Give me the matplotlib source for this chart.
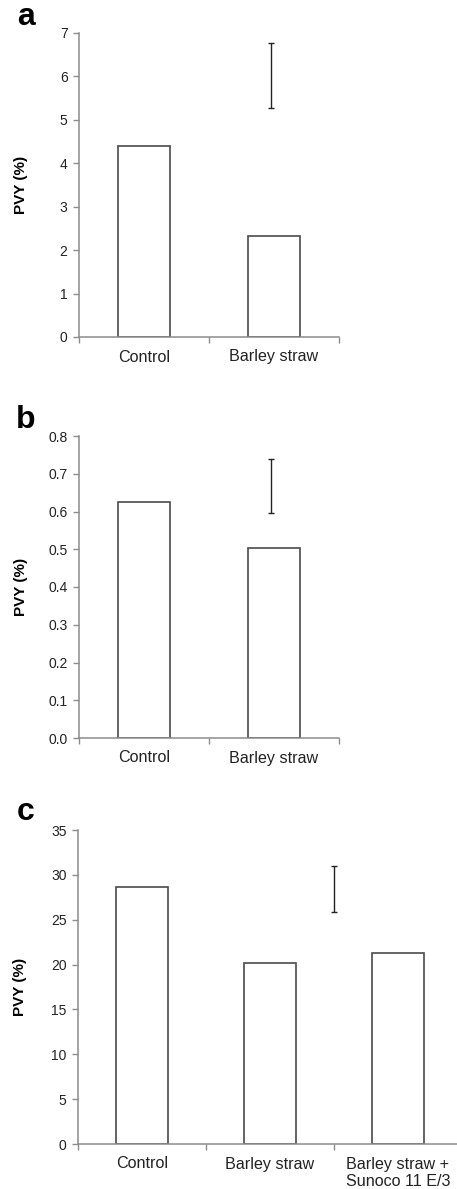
import numpy as np
import matplotlib.pyplot as plt

plt.rcParams['font.family'] = ['Liberation Sans', 'DejaVu Sans']

# panel a
cats_a = ['Control', 'Barley straw']
vals_a = [4.40, 2.33]
err_a = (0.98, 5.27, 6.77)     # x position, low, high
yt_a = [0, 1, 2, 3, 4, 5, 6, 7]

# panel b
cats_b = ['Control', 'Barley straw']
vals_b = [0.624, 0.504]
err_b = (0.98, 0.596, 0.739)
yt_b = [0.0, 0.1, 0.2, 0.3, 0.4, 0.5, 0.6, 0.7, 0.8]

# panel c
cats_c = ['Control', 'Barley straw', 'Barley straw +\nSunoco 11 E/3']
vals_c = [28.6, 20.2, 21.3]
err_c = (1.5, 25.9, 31.0)
yt_c = [0, 5, 10, 15, 20, 25, 30, 35]

W, H = 457, 1189
fig = plt.figure(figsize=(W/100, H/100), dpi=100)

def px_axes(left, right, top, bottom):
	return fig.add_axes([left/W, (H-bottom)/H, (right-left)/W, (bottom-top)/H])

def panel(ax, cats, vals, err, yticks, fmt, width_px):
	n = len(cats)
	x = np.arange(n)
	ax.bar(x, vals, width=0.4, color='white', edgecolor='#4a4a4a', lw=1.2, zorder=2)
	ex, lo, hi = err
	ax.errorbar([ex], [(lo+hi)/2], yerr=[(hi-lo)/2], fmt='none', ecolor='#222222', elinewidth=1.0, capsize=2.2, capthick=1.0)
	ax.set_xlim(-0.5, n-0.5)
	ax.set_ylim(yticks[0], yticks[-1])
	ax.set_yticks(yticks)
	ax.set_yticklabels([fmt.format(v) for v in yticks])
	ax.set_xticks(x)
	ax.set_xticklabels(cats, fontsize=11.6, color='#222222')
	ax.set_xticks(np.arange(n+1)-0.5, minor=True)
	ax.tick_params(axis='x', which='major', length=0, pad=9)
	ax.tick_params(axis='x', which='minor', length=4, width=1, color='#8c8c8c', direction='out')
	ax.tick_params(axis='y', length=4, width=1, color='#8c8c8c', direction='out', labelsize=10, labelcolor='#222222', pad=4.2)
	for s in ['top', 'right']:
		ax.spines[s].set_visible(False)
	for s in ['left', 'bottom']:
		ax.spines[s].set_color('#8c8c8c')
		ax.spines[s].set_linewidth(1.1)
	ax.set_ylabel('PVY (%)', fontsize=11, fontweight='bold', va='center')
	ax.yaxis.set_label_coords(-58/width_px, 0.5)

ax_a = px_axes(79, 339, 33, 337)
panel(ax_a, cats_a, vals_a, err_a, yt_a, '{:d}', 260)
ax_b = px_axes(79, 339, 436, 738)
panel(ax_b, cats_b, vals_b, err_b, yt_b, '{:.1f}', 260)
ax_c = px_axes(78, 462, 830, 1144)
panel(ax_c, cats_c, vals_c, err_c, yt_c, '{:d}', 384)

fig.text(26/W, 1-25/H, 'a', fontsize=23, fontweight='bold', ha='center', va='baseline')
fig.text(26/W, 1-428/H, 'b', fontsize=23, fontweight='bold', ha='center', va='baseline')
fig.text(26/W, 1-820/H, 'c', fontsize=23, fontweight='bold', ha='center', va='baseline')

fig.savefig('out.png', dpi=100, facecolor='white')
